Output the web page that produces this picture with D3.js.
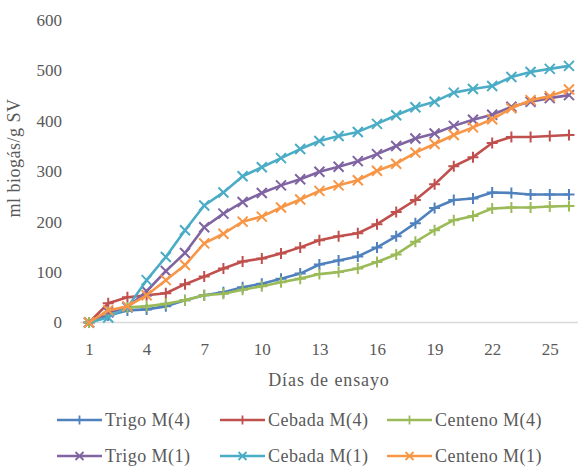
<!DOCTYPE html>
<html>
<head>
<meta charset="utf-8">
<script src="https://cdn.jsdelivr.net/npm/d3@7/dist/d3.min.js"></script>
<style>
  html, body { margin: 0; padding: 0; background: #fff; }
  svg { display: block; }
  text { font-family: "Liberation Serif", "Times New Roman", serif; fill: #595959; }
</style>
</head>
<body>
<svg id="chart" width="578" height="468"></svg>
<script>
// Días de ensayo
const days = d3.range(1, 27);
const xTicks = [1, 4, 7, 10, 13, 16, 19, 22, 25];
const yTicks = [0, 100, 200, 300, 400, 500, 600];

// Producción acumulada de biogás (ml biogás / g SV)
const trigoM4   = [0, 14, 24, 26, 32, 44, 54, 60, 70, 77, 87, 97, 115, 123, 131, 149, 171, 197, 227, 243, 246, 258, 257, 254, 254, 254];
const cebadaM4  = [0, 38, 50, 54, 58, 76, 91, 107, 121, 127, 137, 149, 163, 171, 177, 195, 219, 243, 274, 310, 328, 356, 368, 368, 370, 372];
const centenoM4 = [0, 20, 30, 32, 37, 44, 54, 57, 65, 72, 80, 87, 96, 100, 107, 120, 135, 160, 183, 203, 211, 226, 228, 228, 230, 231];
const trigoM1   = [0, 20, 30, 62, 102, 138, 189, 216, 239, 257, 272, 284, 299, 309, 320, 334, 350, 365, 375, 390, 402, 412, 428, 438, 445, 451];
const cebadaM1  = [0, 10, 30, 84, 130, 183, 232, 258, 290, 308, 326, 344, 360, 370, 378, 394, 411, 427, 438, 456, 463, 469, 487, 497, 503, 509];
const centenoM1 = [0, 24, 32, 54, 84, 114, 157, 176, 200, 210, 228, 244, 261, 272, 282, 301, 315, 337, 354, 372, 387, 403, 425, 441, 449, 462];

const seriesNames = ["Trigo M(4)", "Cebada M(4)", "Centeno M(4)", "Trigo M(1)", "Cebada M(1)", "Centeno M(1)"];
const seriesValues = [trigoM4, cebadaM4, centenoM4, trigoM1, cebadaM1, centenoM1];
const seriesColors = ["#4F81BD", "#C0504D", "#9BBB59", "#8064A2", "#4BACC6", "#F79646"];
const seriesMarkers = ["plus", "plus", "plus", "cross", "cross", "cross"];

const series = seriesNames.map((name, i) => ({
  name,
  color: seriesColors[i],
  marker: seriesMarkers[i],
  values: seriesValues[i].map((v, j) => ({ day: days[j], value: v }))
}));

const svg = d3.select("#chart");

const x = d3.scaleLinear().domain([0.53, 26.47]).range([80, 578]);
const y = d3.scaleLinear().domain([0, 600]).range([322.5, 20]);

// Eje X: línea base gris claro
svg.append("line")
  .attr("x1", 80).attr("x2", 578)
  .attr("y1", y(0)).attr("y2", y(0))
  .attr("stroke", "#D9D9D9").attr("stroke-width", 1.5);

// Etiquetas del eje X
const xAxis = d3.axisBottom(x).tickValues(xTicks).tickSize(0).tickPadding(0).tickFormat(d3.format("d"));
const gx = svg.append("g").attr("transform", `translate(0, 343)`).call(xAxis);
gx.select(".domain").remove();
gx.selectAll("text").attr("font-size", 17).attr("fill", "#595959").attr("dy", "0.71em")
  .style("font-family", '"Liberation Serif", serif');

// Etiquetas del eje Y
const yAxis = d3.axisLeft(y).tickValues(yTicks).tickSize(0).tickPadding(0);
const gy = svg.append("g").attr("transform", `translate(62, 0)`).call(yAxis);
gy.select(".domain").remove();
gy.selectAll("text").attr("font-size", 17).attr("fill", "#595959")
  .style("font-family", '"Liberation Serif", serif');

// Títulos de ejes
svg.append("text")
  .attr("x", 329).attr("y", 386)
  .attr("text-anchor", "middle")
  .attr("font-size", 18).attr("letter-spacing", 0.9)
  .text("Días de ensayo");

svg.append("text")
  .attr("transform", "translate(20, 158) rotate(-90)")
  .attr("text-anchor", "middle")
  .attr("font-size", 18).attr("letter-spacing", 0.5)
  .text("ml biogás/g SV");

// Marcadores
function markerPath(type, s) {
  if (type === "plus") return `M${-s},0H${s}M0,${-s}V${s}`;
  return `M${-s},${-s}L${s},${s}M${-s},${s}L${s},${-s}`;
}

const line = d3.line().x(d => x(d.day)).y(d => y(d.value));

const plot = svg.append("g");
series.forEach(s => {
  const g = plot.append("g");
  g.append("path")
    .datum(s.values)
    .attr("fill", "none")
    .attr("stroke", s.color)
    .attr("stroke-width", 2.6)
    .attr("stroke-linejoin", "round")
    .attr("d", line);
  g.selectAll("path.mk")
    .data(s.values)
    .join("path")
    .attr("class", "mk")
    .attr("transform", d => `translate(${x(d.day)},${y(d.value)})`)
    .attr("d", markerPath(s.marker, s.marker === "plus" ? 5.5 : 5))
    .attr("stroke", s.color)
    .attr("stroke-width", 2)
    .attr("fill", "none");
});

// Leyenda
const legendCols = [57, 220, 387];
const legendRows = [420, 456];
const legend = svg.append("g");
series.forEach((s, i) => {
  const lx = legendCols[i % 3];
  const ly = legendRows[Math.floor(i / 3)];
  const g = legend.append("g").attr("transform", `translate(${lx},${ly})`);
  g.append("line").attr("x1", 0).attr("x2", 45).attr("y1", 0).attr("y2", 0)
    .attr("stroke", s.color).attr("stroke-width", 2.6);
  g.append("path").attr("transform", "translate(22.5,0)")
    .attr("d", markerPath(s.marker, s.marker === "plus" ? 4.5 : 4))
    .attr("stroke", s.color).attr("stroke-width", 1.8).attr("fill", "none");
  g.append("text").attr("x", 48).attr("y", 0).attr("dy", "0.35em")
    .attr("font-size", 18).attr("letter-spacing", 0.45)
    .text(s.name);
});
</script>
</body>
</html>
